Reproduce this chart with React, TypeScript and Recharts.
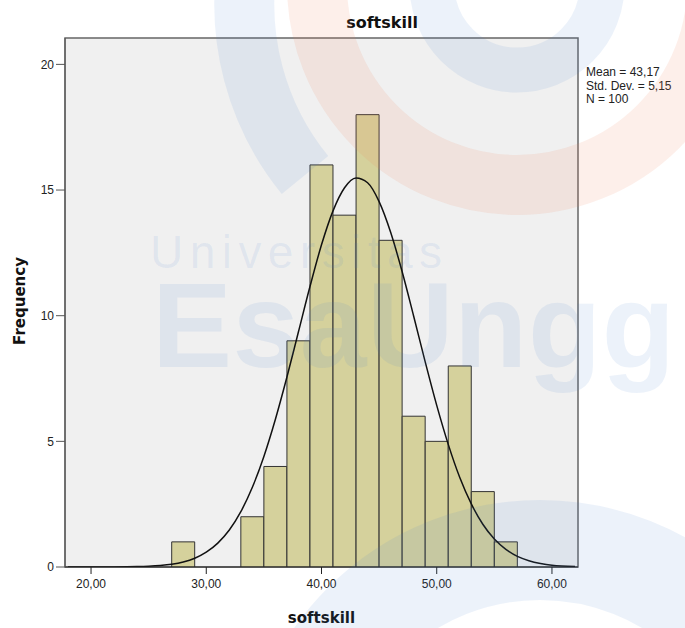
import React from "react";
import {
  ComposedChart, Bar, Line, XAxis, YAxis, CartesianGrid, ReferenceArea,
} from "recharts";

// histogram bins (bin centre, width 2) and counts
const binCenters = [28, 34, 36, 38, 40, 42, 44, 46, 48, 50, 52, 54, 56];
const binCounts = [1, 2, 4, 9, 16, 14, 18, 13, 6, 5, 8, 3, 1];

// normal curve
const curveX = [18, 20, 22, 24, 25, 26, 27, 28, 29, 30, 31, 32, 33, 34, 35, 36, 37, 38, 39, 40,
  41, 42, 43, 44, 45, 46, 47, 48, 49, 50, 51, 52, 53, 54, 55, 56, 57, 58, 59, 60, 62];
const curveY = [0.0001, 0.0006, 0.003, 0.015, 0.031, 0.06, 0.11, 0.2, 0.35, 0.59, 0.95, 1.47, 2.2, 3.17,
  4.4, 5.88, 7.56, 9.36, 11.16, 12.82, 14.17, 15.09, 15.48, 15.29, 14.54, 13.32, 11.75, 9.98, 8.16,
  6.43, 4.88, 3.56, 2.51, 1.7, 1.11, 0.7, 0.42, 0.25, 0.14, 0.07, 0.02];

const xTicks = [20, 30, 40, 50, 60];
const yTicks = [0, 5, 10, 15, 20];
const statLines = ["Mean = 43,17", "Std. Dev. = 5,15", "N = 100"];

const X_MIN = 17.74;
const X_MAX = 62.26;
const Y_MAX = 21.05;

const data = binCenters.map((x, i) => ({ x, count: binCounts[i] }));
const curve = curveX.map((x, i) => ({ x, freq: curveY[i] }));

const BLUE = "rgba(70,130,210,0.1)";
const ORANGE = "rgba(240,130,90,0.13)";

export default function App() {
  return (
    <div style={{ position: "fixed", left: 0, top: 0, width: 685, height: 628, background: "#fff", overflow: "hidden" }}>
      <ComposedChart
        width={685}
        height={628}
        data={data}
        margin={{ top: 38, right: 107, bottom: 0, left: 0 }}
        barCategoryGap={0}
        barGap={0}
      >
        <CartesianGrid fill="#f0f0f0" horizontal={false} vertical={false} />
        <XAxis
          dataKey="x"
          type="number"
          domain={[X_MIN, X_MAX]}
          ticks={xTicks}
          allowDataOverflow
          height={61}
          tickSize={7}
          tickMargin={5}
          tickFormatter={(v: number) => v.toFixed(2).replace(".", ",")}
          tick={{ fill: "#222", fontSize: 12, fontFamily: "Liberation Sans" }}
          stroke="#222"
        />
        {/* separate hidden axis for the curve so the bars keep their 2-unit band */}
        <XAxis xAxisId="curve" dataKey="x" type="number" domain={[X_MIN, X_MAX]} allowDataOverflow hide />
        <YAxis
          type="number"
          domain={[0, Y_MAX]}
          ticks={yTicks}
          allowDataOverflow
          width={65}
          tickSize={9}
          tickMargin={2}
          tick={{ fill: "#222", fontSize: 12, fontFamily: "Liberation Sans" }}
          stroke="#555"
        />
        <Bar
          dataKey="count"
          barSize={23}
          fill="#d5d19c"
          stroke="#333"
          strokeWidth={1}
          isAnimationActive={false}
        />
        <Line
          xAxisId="curve"
          data={curve}
          dataKey="freq"
          type="monotone"
          dot={false}
          stroke="#111"
          strokeWidth={1.5}
          isAnimationActive={false}
        />
        <ReferenceArea
          x1={X_MIN}
          x2={X_MAX}
          y1={0}
          y2={Y_MAX}
          fill="none"
          stroke="#666"
          strokeWidth={1.5}
          ifOverflow="visible"
        />
      </ComposedChart>

      {/* titles, labels and the faint logo watermark on top */}
      <svg width={685} height={628} style={{ position: "absolute", left: 0, top: 0, pointerEvents: "none" }}>
        <text x={382} y={28} textAnchor="middle" fontFamily="DejaVu Sans" fontWeight="bold" fontSize={16} fill="#111">
          softskill
        </text>
        <text x={321.5} y={623} textAnchor="middle" fontFamily="DejaVu Sans" fontWeight="bold" fontSize={15} fill="#111">
          softskill
        </text>
        <text
          x={20}
          y={301}
          transform="rotate(-90 20 301)"
          textAnchor="middle"
          dominantBaseline="central"
          fontFamily="DejaVu Sans"
          fontWeight="bold"
          fontSize={15}
          fill="#111"
        >
          Frequency
        </text>
        {statLines.map((s, i) => (
          <text key={s} x={586} y={76 + i * 13.5} fontFamily="Liberation Sans" fontSize={12} fill="#222">
            {s}
          </text>
        ))}

        <circle cx={517} cy={-15} r={85} fill="none" stroke={BLUE} strokeWidth={45} />
        <circle cx={517} cy={-15} r={200} fill="none" stroke={ORANGE} strokeWidth={60} />
        <path d="M 248 -40 A 270 270 0 0 0 305 175" fill="none" stroke={BLUE} strokeWidth={60} />
        <circle cx={540} cy={800} r={250} fill="none" stroke={BLUE} strokeWidth={100} />
        <text x={150} y={268} fontFamily="Liberation Sans" fontSize={46} textLength={292} lengthAdjust="spacing" fill={BLUE}>
          Universitas
        </text>
        <text x={152} y={367} fontFamily="Liberation Sans" fontWeight="bold" fontSize={120} textLength={523} lengthAdjust="spacing" fill={BLUE}>
          EsaUngg
        </text>
      </svg>
    </div>
  );
}
